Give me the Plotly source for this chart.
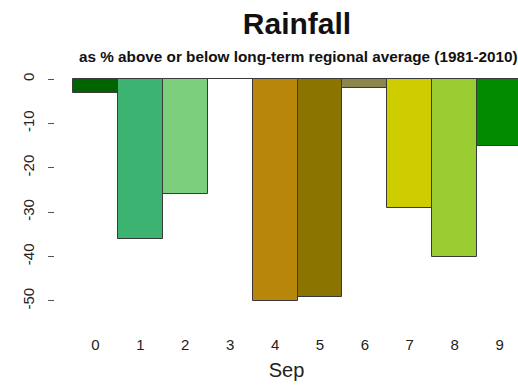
import plotly.graph_objects as go

categories = ["0", "1", "2", "3", "4", "5", "6", "7", "8", "9"]
values = [-3.2, -36, -26, 0, -50, -49, -2, -29, -40, -15]
colors = ["#006400", "#3CB371", "#7CCF7C", "#FFFFFF", "#B8860B",
          "#8B7500", "#8B864E", "#CDCD00", "#9ACD32", "#008B00"]
y_ticks = [0, -10, -20, -30, -40, -50]

fig = go.Figure()
fig.add_trace(go.Bar(
    x=list(range(len(categories))), y=values,
    marker=dict(color=colors, line=dict(color="#3a3a3a", width=1)),
    width=1.0,
))

FONT = "Liberation Sans, Arial, sans-serif"
fig.update_layout(
    width=518, height=388,
    margin=dict(l=55, r=0, t=70, b=78),
    paper_bgcolor="white", plot_bgcolor="white",
    showlegend=False, bargap=0,
    font=dict(family=FONT, color="#222222"),
    title=dict(text="<b>Rainfall</b>", x=297/518, xref="container", xanchor="center",
               y=1-23/388, yref="container", yanchor="middle",
               font=dict(size=30, color="#111111", family=FONT)),
    xaxis=dict(range=[-0.9, 9.41], tickmode="array",
               tickvals=list(range(len(categories))), ticktext=categories,
               showgrid=False, zeroline=False, showline=False, ticks="",
               automargin=False,
               ticklabelstandoff=24, tickfont=dict(size=15, color="#222222"),
               title=dict(text="Sep", font=dict(size=20, color="#222222"), standoff=10)),
    yaxis=dict(range=[-52.03, 2.03], tickmode="array", tickvals=y_ticks,
               ticktext=[str(v) for v in y_ticks],
               showgrid=False, zeroline=False, showline=False,
               automargin=False,
               ticks="outside", ticklen=6, tickcolor="#555555",
               tickangle=-90, ticklabelstandoff=8,
               tickfont=dict(size=15, color="#222222")),
)
fig.add_annotation(text="<b>as % above or below long-term regional average (1981-2010)</b>",
                   xref="paper", yref="paper", x=(298-55)/463, y=1+(70-57)/240,
                   xanchor="center", yanchor="middle", showarrow=False,
                   font=dict(size=15.3, color="#111111", family=FONT))

fig.write_html("out.html", config={"displayModeBar": False},
               post_script="document.body.style.margin='0';")
